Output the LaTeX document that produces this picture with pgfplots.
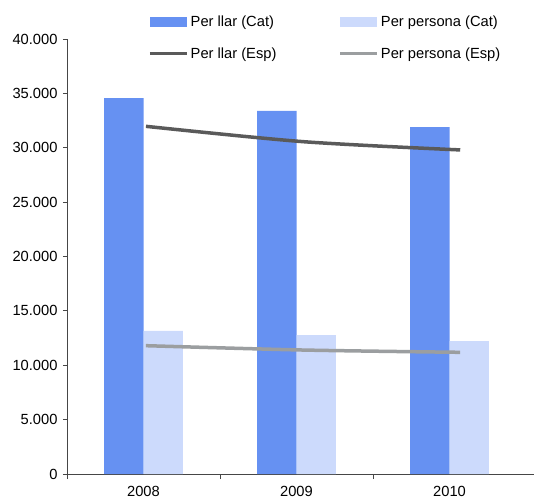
\documentclass[border=0pt]{standalone}
\usepackage{fontspec}
\setmainfont{Liberation Sans}
\usepackage{pgfplots}
\pgfplotsset{compat=1.18}
\definecolor{llarcat}{RGB}{102,145,242}
\definecolor{perscat}{RGB}{204,218,252}
\definecolor{llaresp}{RGB}{90,90,90}
\definecolor{persesp}{RGB}{155,158,160}
\definecolor{axisgray}{RGB}{70,70,70}
\begin{document}
\begin{tikzpicture}[font=\fontsize{14.7pt}{17pt}\selectfont]
\begin{axis}[
  scale only axis, width=467pt, height=435pt,
  xmin=-0.5, xmax=2.5523, ymin=0, ymax=40000,
  axis x line*=bottom, axis y line*=left,
  axis line style={axisgray, line width=0.8pt},
  tick align=outside,
  xtick={0,1,2}, xticklabels={2008,2009,2010},
  xticklabel style={yshift=-5pt},
  major x tick style={draw=none},
  minor xtick={-0.5,0.5,1.5},
  minor x tick style={axisgray, line width=0.8pt},
  minor tick length=5pt, major tick length=4pt,
  ytick={0,5000,...,40000}, scaled y ticks=false,
  y tick style={axisgray, line width=0.8pt},
  /pgf/number format/assume math mode=true,
  yticklabel style={xshift=-2pt, /pgf/number format/.cd, fixed, 1000 sep={.}},
  legend columns=2,
  legend cell align=left,
  legend style={draw=none, fill=none, at={(0.167,1.062)}, anchor=north west,
    row sep=15pt, /tikz/every even column/.append style={column sep=60pt}},
]
\coordinate (O) at (rel axis cs:0,0);
% households and persons, Catalonia
\addplot[ybar, bar width=0.258, bar shift=-0.129, fill=llarcat, draw=none,
  legend image code/.code={\fill[llarcat] (0pt,-5pt) rectangle (37pt,5pt);}]
  coordinates {(0,34560) (1,33380) (2,31900)};
\addlegendentry{Per llar (Cat)}
\addplot[ybar, bar width=0.258, bar shift=0.129, fill=perscat, draw=none,
  legend image code/.code={\fill[perscat] (0pt,-5pt) rectangle (37pt,5pt);}]
  coordinates {(0,13150) (1,12780) (2,12230)};
\addlegendentry{Per persona (Cat)}
% households and persons, Spain
\addplot[llaresp, line width=3.5pt, smooth, no markers,
  legend image code/.code={\draw[llaresp, line width=3.5pt] (0pt,0pt) -- (37pt,0pt);}]
  coordinates {(0.016,31970) (1.043,30560) (2.07,29800)};
\addlegendentry{Per llar (Esp)}
\addplot[persesp, line width=3.5pt, smooth, no markers,
  legend image code/.code={\draw[persesp, line width=3.5pt] (0pt,0pt) -- (37pt,0pt);}]
  coordinates {(0.016,11800) (1.043,11400) (2.07,11190)};
\addlegendentry{Per persona (Esp)}
\end{axis}
\pgfresetboundingbox
\path[use as bounding box] ([xshift=-67pt,yshift=-27pt]O) rectangle ([xshift=467pt,yshift=474pt]O);
\end{tikzpicture}
\end{document}
